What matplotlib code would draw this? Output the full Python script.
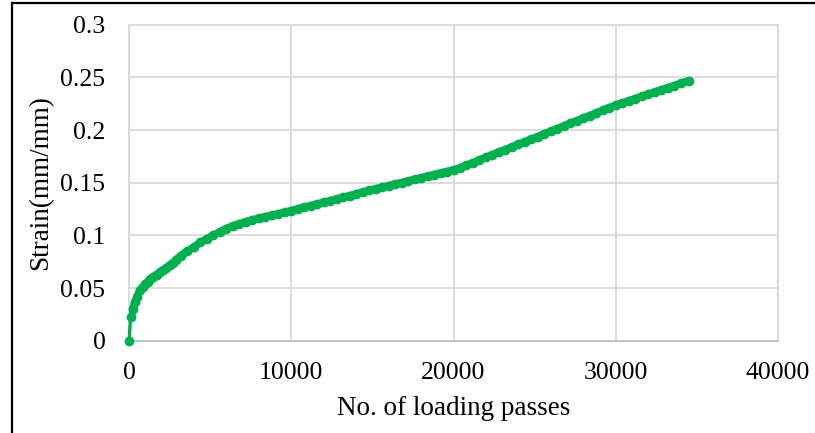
import matplotlib.pyplot as plt
from matplotlib.lines import Line2D

# loading passes vs. measured strain
passes = [
    0, 100, 230, 370, 500, 670, 850, 1000, 1150, 1300, 1500, 1700, 1900,
    2100, 2300, 2500, 2700, 2900,
    3200, 3600, 4000, 4400, 4800, 5200, 5600, 6000, 6400, 6800, 7200,
    7600, 8000, 8400, 8800, 9200, 9600, 10000,
    10400, 10800, 11200, 11600, 12000, 12400, 12800, 13200, 13600, 14000,
    14400, 14800, 15200, 15600, 16000, 16400, 16800, 17200, 17600, 18000,
    18400, 18800, 19200, 19600, 20000, 20400, 20800,
    21200, 21600, 22000, 22400, 22800, 23200, 23600, 24000, 24400, 24800,
    25200, 25600, 26000, 26400, 26800, 27200, 27600, 28000, 28400, 28800,
    29200, 29600, 30000, 30400, 30800, 31200, 31600, 32000, 32400, 32800,
    33200, 33600, 34000, 34500,
]
strain = [
    0.0, 0.0225, 0.030, 0.037, 0.042, 0.048, 0.051, 0.054, 0.056, 0.059,
    0.061, 0.063, 0.065, 0.067, 0.069, 0.072, 0.074, 0.077,
    0.081, 0.085, 0.089, 0.0935, 0.097, 0.100, 0.1035, 0.1065, 0.109,
    0.111, 0.113, 0.1148, 0.1162, 0.1178, 0.119, 0.1205, 0.122, 0.1235,
    0.1252, 0.1268, 0.1283, 0.1298, 0.1314, 0.1329, 0.1345, 0.1361, 0.1377,
    0.1394, 0.1411, 0.1427, 0.1442, 0.1457, 0.1472, 0.1487, 0.1501, 0.1516,
    0.1531, 0.1546, 0.1561, 0.1576, 0.1591, 0.1606, 0.1621, 0.1641, 0.1664,
    0.1690, 0.1715, 0.1740, 0.1765, 0.1790, 0.1814, 0.1839, 0.1864, 0.1889,
    0.1913, 0.1938, 0.1963, 0.1988, 0.2013, 0.2037, 0.2062, 0.2087, 0.2112,
    0.2136, 0.2161, 0.2186, 0.2211, 0.2236, 0.2256, 0.2277, 0.2297, 0.2318,
    0.2338, 0.2359, 0.2379, 0.2400, 0.2420, 0.2441, 0.2467,
]
x_ticks = [0, 10000, 20000, 30000, 40000]
y_ticks = [0, 0.05, 0.1, 0.15, 0.2, 0.25, 0.3]
y_tick_labels = ['0', '0.05', '0.1', '0.15', '0.2', '0.25', '0.3']

plt.rcParams['font.family'] = ['Liberation Serif', 'DejaVu Serif']

fig = plt.figure(figsize=(8.15, 4.33), dpi=100)
ax = fig.add_axes([0.1583, 0.2125, 0.7963, 0.7309])

green = '#00B050'
grid_color = '#D9D9D9'
ax.plot(passes, strain, color=green, linewidth=2.4, marker='o',
        markersize=6, clip_on=False, zorder=3)
# the dense run of markers after the first reading merges into one band
ax.plot(passes[1:], strain[1:], color=green, linewidth=5.6,
        solid_capstyle='round', solid_joinstyle='round', zorder=3)

ax.set_xlim(0, 40000)
ax.set_ylim(0, 0.3)
ax.set_xticks(x_ticks)
ax.set_yticks(y_ticks)
ax.set_yticklabels(y_tick_labels)
ax.tick_params(axis='both', length=0, labelsize=18.5, colors='black')
ax.tick_params(axis='x', pad=15)
ax.tick_params(axis='y', pad=17)
ax.grid(True, color=grid_color, linewidth=1.3)
ax.set_axisbelow(True)
for spine in ax.spines.values():
    spine.set_color(grid_color)
    spine.set_linewidth(1.3)
ax.spines['bottom'].set_color('#BFBFBF')

ax.set_xlabel('No. of loading passes', fontsize=19.5, labelpad=9)
ax.set_ylabel('Strain(mm/mm)', fontsize=19.5, labelpad=5)

# chart frame (top and left edges)
fig.add_artist(Line2D([12 / 815, 1.0], [1 - 3 / 433, 1 - 3 / 433],
                      color='black', linewidth=1.6, transform=fig.transFigure))
fig.add_artist(Line2D([12 / 815, 12 / 815], [0.0, 1 - 3 / 433],
                      color='black', linewidth=1.6, transform=fig.transFigure))

fig.savefig('out.png', dpi=100)
